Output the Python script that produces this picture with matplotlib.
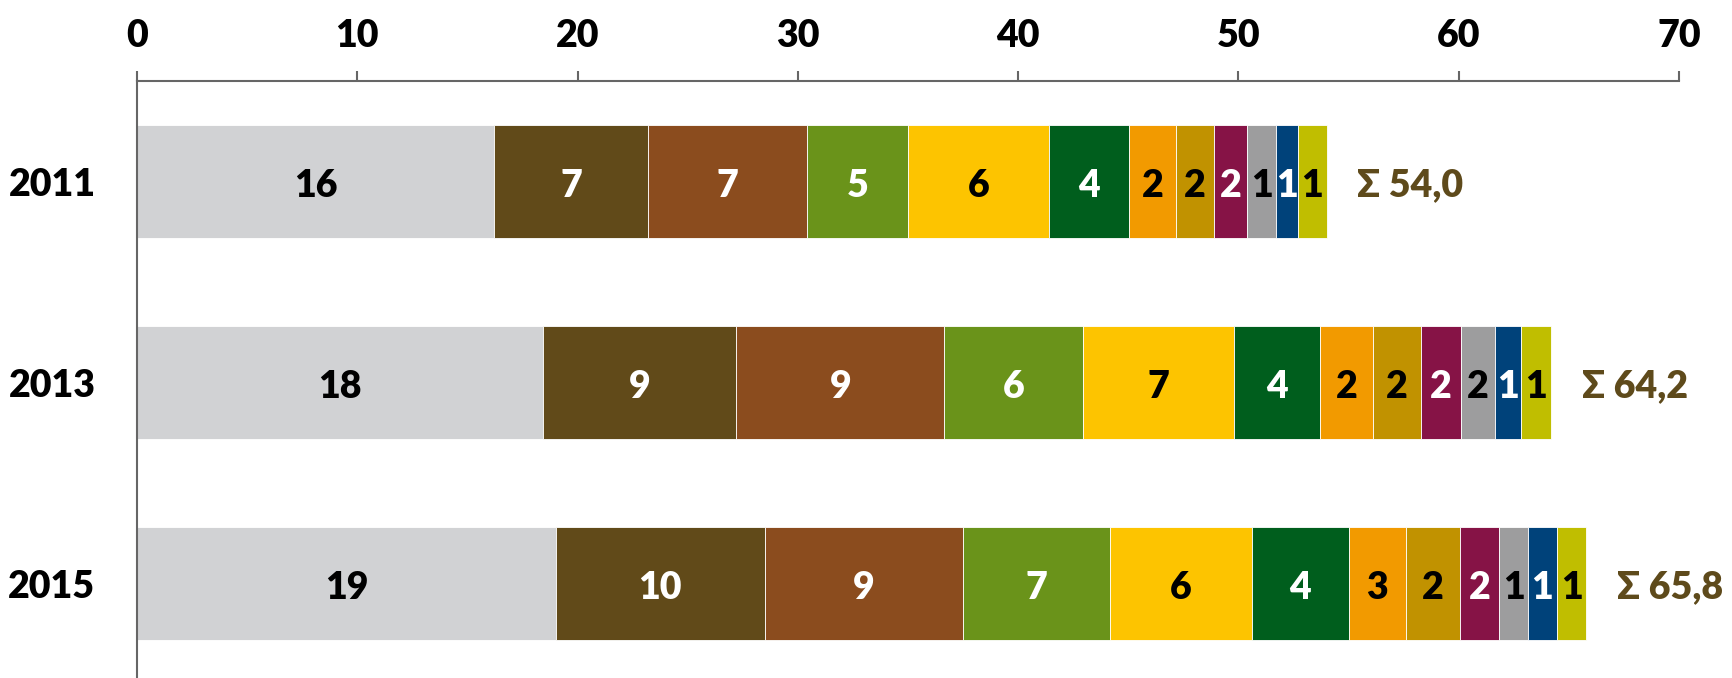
import matplotlib.pyplot as plt
import numpy as np

plt.rcParams['font.family'] = ['Lato', 'DejaVu Sans']
plt.rcParams['font.weight'] = 'heavy'

years = ["2011", "2013", "2015"]

# one list per segment, values for 2011, 2013, 2015
seg_gray = [16.2, 18.45, 19.0]
seg_darkbrown = [7.0, 8.75, 9.5]
seg_brown = [7.2, 9.45, 9.0]
seg_green = [4.6, 6.3, 6.65]
seg_yellow = [6.4, 6.85, 6.45]
seg_darkgreen = [3.65, 3.9, 4.4]
seg_orange = [2.1, 2.4, 2.6]
seg_gold = [1.75, 2.2, 2.45]
seg_magenta = [1.5, 1.8, 1.8]
seg_midgray = [1.3, 1.55, 1.3]
seg_navy = [1.0, 1.2, 1.3]
seg_yellowgreen = [1.3, 1.35, 1.35]

series = [seg_gray, seg_darkbrown, seg_brown, seg_green, seg_yellow, seg_darkgreen,
          seg_orange, seg_gold, seg_magenta, seg_midgray, seg_navy, seg_yellowgreen]
colors = ['#D1D2D4', '#614A19', '#8B4C1E', '#6A931A', '#FDC400', '#005E1D',
          '#F29A00', '#C19200', '#861346', '#9D9D9E', '#00427A', '#C0BE00']
text_colors = ['black', 'white', 'white', 'white', 'black', 'white',
               'black', 'black', 'white', 'black', 'white', 'black']

fig = plt.figure(figsize=(17.33, 6.78), dpi=100)
ax = fig.add_axes([0.0791, 0.0, 0.8897, 0.8805])

y = np.arange(len(years))
left = np.zeros(len(years))
for vals, c, tc in zip(series, colors, text_colors):
    vals = np.array(vals)
    ax.barh(y, vals, left=left, height=0.56, color=c, edgecolor='white', linewidth=0.6)
    for yi, (l, v) in enumerate(zip(left, vals)):
        ax.text(l + v / 2, yi + 0.02, str(int(v + 0.5)), ha='center', va='center',
                color=tc, fontsize=27, fontweight='heavy')
    left = left + vals

# totals
for yi, tot in enumerate(left):
    ax.annotate("Σ " + f"{tot:.1f}".replace('.', ','), (tot, yi + 0.02), xytext=(22, 0),
                textcoords='offset points', ha='left', va='center',
                color='#5E4A1B', fontsize=27, fontweight='heavy')

ax.set_xlim(0, 70)
ax.set_ylim(2.47, -0.5)
ax.set_xticks(range(0, 71, 10))
ax.xaxis.tick_top()
ax.tick_params(axis='x', direction='out', length=7, width=1.5, color='#666666',
               labelsize=27, pad=13)
ax.set_yticks(y)
ax.set_yticklabels(years)
ax.tick_params(axis='y', length=0, labelsize=27, pad=30)
for lab in ax.get_xticklabels() + ax.get_yticklabels():
    lab.set_fontweight('heavy')

for s in ['right', 'bottom']:
    ax.spines[s].set_visible(False)
for s in ['top', 'left']:
    ax.spines[s].set_color('#666666')
    ax.spines[s].set_linewidth(1.5)

fig.savefig('out.png', dpi=100)
